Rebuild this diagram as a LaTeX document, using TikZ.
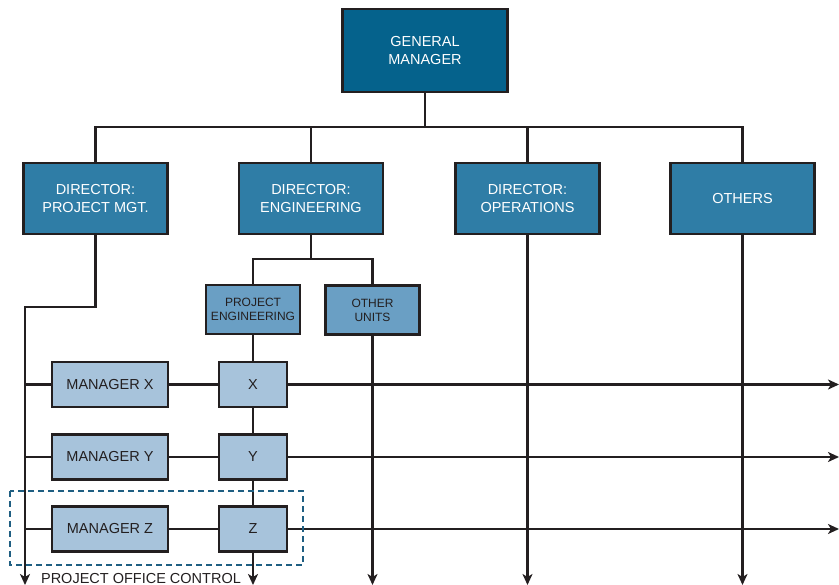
\documentclass[tikz,border=0pt]{standalone}
\usepackage{fontspec}
\setmainfont{Liberation Sans}
\usepackage{xcolor}
\usetikzlibrary{arrows.meta,positioning,calc}

\definecolor{gmblue}{HTML}{05628C}
\definecolor{dirblue}{HTML}{2F7DA6}
\definecolor{unitblue}{HTML}{6A9FC4}
\definecolor{lightblue}{HTML}{A7C3DB}
\definecolor{inkgray}{HTML}{231F20}
\definecolor{ctrlblue}{HTML}{1F5F82}

\begin{document}
\begin{tikzpicture}[
  x=1pt, y=-1pt,
  box/.style={
    rectangle,
    draw=inkgray,
    line width=2.6pt,
    align=center,
    inner sep=0pt,
    font=\fontsize{14.5}{17.5}\selectfont
  },
  gmbox/.style={box, fill=gmblue, text=white, minimum width=165pt, minimum height=83pt},
  dirbox/.style={box, fill=dirblue, text=white, minimum width=144pt, minimum height=71pt},
  unitbox/.style={box, fill=unitblue, text=inkgray, minimum width=94pt, minimum height=49pt,
    font=\fontsize{12}{14}\selectfont},
  mgrbox/.style={box, fill=lightblue, text=inkgray, minimum width=116pt, minimum height=45pt},
  prjbox/.style={box, fill=lightblue, text=inkgray, minimum width=68pt, minimum height=45pt},
  line/.style={draw=inkgray, line width=2.4pt},
  arr/.style={line, -{Stealth[length=11pt, width=10pt, inset=3pt]}},
  ctrl/.style={draw=ctrlblue, line width=2.4pt, dash pattern=on 6pt off 4pt}
]
\useasboundingbox (0,0) rectangle (839,585);

% top level
\node[gmbox] (gm) at (425,50.5) {GENERAL\\MANAGER};

\node[dirbox] (dpm)  at (95.5,198.5)  {DIRECTOR:\\PROJECT MGT.};
\node[dirbox] (deng) at (311,198.5)   {DIRECTOR:\\ENGINEERING};
\node[dirbox] (dops) at (527.5,198.5) {DIRECTOR:\\OPERATIONS};
\node[dirbox] (doth) at (742.5,198.5) {OTHERS};

% engineering units
\node[unitbox] (pe) at (253,309.5)   {PROJECT\\ENGINEERING};
\node[unitbox] (ou) at (372.5,310)   {OTHER\\UNITS};

% projects
\node[mgrbox] (mx) at (110,384.5) {MANAGER X};
\node[mgrbox] (my) at (110,457)   {MANAGER Y};
\node[mgrbox] (mz) at (110,529)   {MANAGER Z};

\node[prjbox] (px) at (253,384.5) {X};
\node[prjbox] (py) at (253,457)   {Y};
\node[prjbox] (pz) at (253,529)   {Z};

% helper coordinates
\coordinate (bus)  at (0,127);
\coordinate (ebus) at (0,259);
\coordinate (pmb)  at (0,307);
\coordinate (pmc)  at (25,585);
\coordinate (rend) at (839,0);

% general manager to directors
\foreach \d in {dpm,deng,dops,doth}
  \draw[line] (gm.south) -- (gm.south |- bus) -| (\d.north);

% engineering to its units
\draw[line] (deng.south) -- (deng.south |- ebus) -| (pe.north);
\draw[line] (deng.south) -- (deng.south |- ebus) -| (ou.north);

% project office control line
\draw[arr] (dpm.south) -- (dpm.south |- pmb) -| (pmc);

% project rows
\draw[line] (pmc |- mx) -- (mx.west);
\draw[line] (pmc |- my) -- (my.west);
\draw[line] (pmc |- mz) -- (mz.west);
\draw[line] (mx.east) -- (px.west);
\draw[line] (my.east) -- (py.west);
\draw[line] (mz.east) -- (pz.west);
\draw[arr] (px.east) -- (px.east -| rend);
\draw[arr] (py.east) -- (py.east -| rend);
\draw[arr] (pz.east) -- (pz.east -| rend);

% vertical lines
\draw[line] (pe.south) -- (px.north);
\draw[line] (px.south) -- (py.north);
\draw[line] (py.south) -- (pz.north);
\draw[arr] (pz.south) -- (pz.south |- pmc);
\draw[arr] (ou.south) -- (ou.south |- pmc);
\draw[arr] (dops.south) -- (dops.south |- pmc);
\draw[arr] (doth.south) -- (doth.south |- pmc);

% project office control
\draw[ctrl] (10,491) rectangle (303,565);
\node[anchor=base, inner sep=0pt, text=inkgray, font=\fontsize{14.5}{17.5}\selectfont]
  (poc) at (141,583.5) {PROJECT OFFICE CONTROL};

\end{tikzpicture}
\end{document}
